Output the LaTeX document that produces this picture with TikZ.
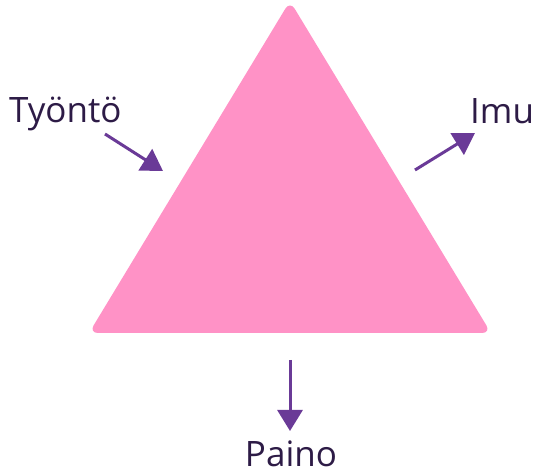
\documentclass[tikz,border=0pt]{standalone}
\usepackage{fontspec}
\setmainfont{Open Sans}
\usetikzlibrary{arrows.meta}
\definecolor{tripink}{HTML}{FF92C6}
\definecolor{arrowpurple}{HTML}{6A3A97}
\definecolor{textpurple}{HTML}{2D1B46}
\tikzset{
  force/.style={draw=arrowpurple, line width=3pt, -{Triangle[width=25pt,length=21pt]}},
  lbl/.style={text=textpurple, font=\fontsize{35}{40}\selectfont, inner sep=0pt},
}
\begin{document}
\begin{tikzpicture}[x=1pt,y=-1pt]
\useasboundingbox (0,0) rectangle (539,473);
\fill[tripink, rounded corners=9pt] (290,1) -- (491,333) -- (89,333) -- cycle;
\coordinate (tA) at (105,134);
\coordinate (tB) at (163,171);
\coordinate (iA) at (415,170);
\coordinate (iB) at (475,133);
\coordinate (pA) at (290,360);
\coordinate (pB) at (290,431);
\draw[force] (tA) -- (tB);
\draw[force] (iA) -- (iB);
\draw[force] (pA) -- (pB);
\node[lbl, anchor=base west] (tyonto) at (9,123) {Työntö};
\node[lbl, anchor=base west] (imu) at (470,124) {Imu};
\node[lbl, anchor=base] (paino) at (291,467) {Paino};
\end{tikzpicture}
\end{document}
